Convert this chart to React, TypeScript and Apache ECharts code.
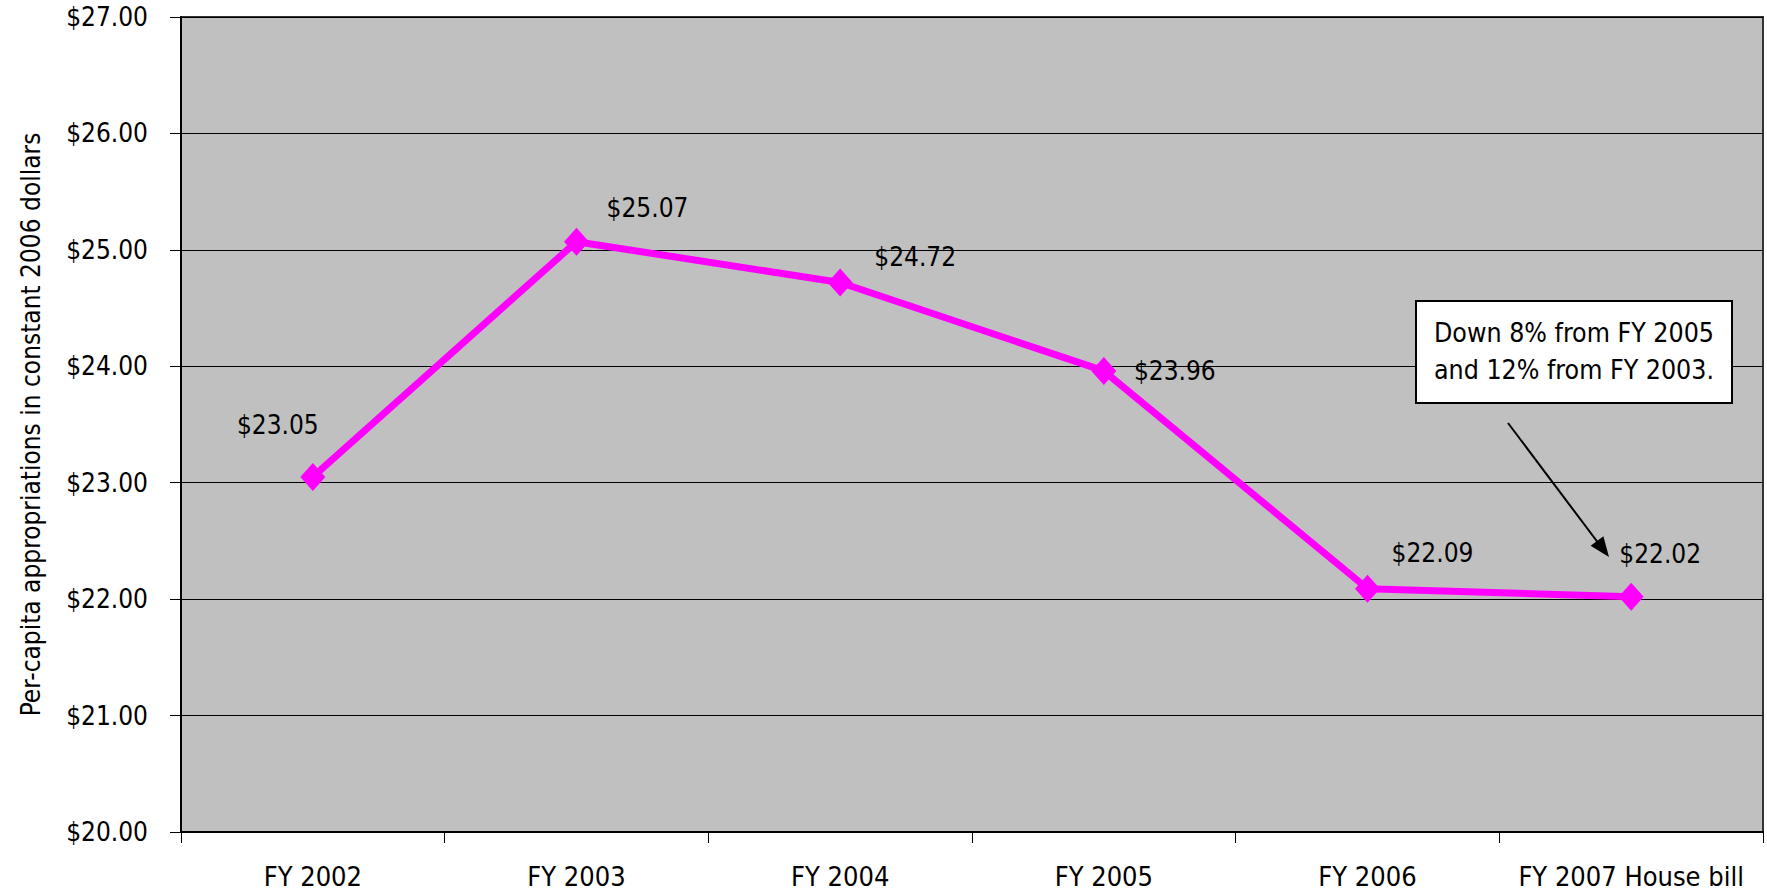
import React, { useEffect, useRef } from "react";
import * as echarts from "echarts";

const categories = ["FY 2002", "FY 2003", "FY 2004", "FY 2005", "FY 2006", "FY 2007 House bill"];
const values = [23.05, 25.07, 24.72, 23.96, 22.09, 22.02];
const yAxisName = "Per-capita appropriations in constant 2006 dollars";
const noteLines = ["Down 8% from FY 2005", "and 12% from FY 2003."];

const FONT = "'Liberation Sans Narrow', 'Arial Narrow', 'DejaVu Sans Condensed', sans-serif";

export default function App() {
  const ref = useRef<HTMLDivElement>(null);
  useEffect(() => {
    if (!ref.current) return;
    const chart = echarts.init(ref.current, null, { renderer: "svg" });
    const labelOffsets = [
      [-35, -52],
      [71, -34],
      [75, -25],
      [71, 0],
      [65, -36],
      [29, -43],
    ];
    chart.setOption({
      animation: false,
      textStyle: { fontFamily: FONT },
      grid: {
        left: 181,
        right: 4,
        top: 17,
        bottom: 62,
        show: true,
        backgroundColor: "#C0C0C0",
        borderColor: "#333333",
        borderWidth: 2,
      },
      xAxis: {
        type: "category",
        data: categories,
        boundaryGap: true,
        axisLine: { show: true, lineStyle: { color: "#000", width: 2 } },
        axisTick: { show: true, length: 11, lineStyle: { color: "#000", width: 1 } },
        axisLabel: { color: "#000", fontSize: 27, fontFamily: FONT, margin: 31, interval: 0 },
        splitLine: { show: false },
      },
      yAxis: {
        type: "value",
        min: 20,
        max: 27,
        interval: 1,
        name: yAxisName,
        nameLocation: "middle",
        nameGap: 137,
        nameTextStyle: { color: "#000", fontSize: 26, fontFamily: FONT },
        axisLine: { show: true, lineStyle: { color: "#000", width: 2 } },
        axisTick: { show: true, length: 11, lineStyle: { color: "#000", width: 1 } },
        axisLabel: {
          color: "#000",
          fontSize: 26,
          fontFamily: FONT,
          margin: 33,
          formatter: (v: number) => "$" + v.toFixed(2),
        },
        splitLine: { show: true, lineStyle: { color: "#000", width: 1 } },
      },
      series: [
        {
          type: "line",
          data: values.map((v, i) => ({
            value: v,
            label: {
              show: true,
              position: "inside",
              offset: labelOffsets[i],
              formatter: (p: any) => "$" + Number(p.value).toFixed(2),
              color: "#000",
              fontSize: 26,
              fontFamily: FONT,
            },
          })),
          symbol: "diamond",
          symbolSize: [25, 28],
          itemStyle: { color: "#FF00FF" },
          lineStyle: { color: "#FF00FF", width: 7 },
          z: 5,
        },
      ],
      graphic: [
        {
          type: "rect",
          shape: { x: 1416, y: 301, width: 316, height: 102 },
          style: { fill: "#fff", stroke: "#000", lineWidth: 2 },
          z: 10,
        },
        {
          type: "text",
          x: 1574,
          y: 332,
          style: { text: noteLines[0], fill: "#000", fontSize: 26.5, fontFamily: FONT, align: "center", verticalAlign: "middle" },
          z: 11,
        },
        {
          type: "text",
          x: 1574,
          y: 369,
          style: { text: noteLines[1], fill: "#000", fontSize: 26.5, fontFamily: FONT, align: "center", verticalAlign: "middle" },
          z: 11,
        },
        {
          type: "line",
          shape: { x1: 1508, y1: 423, x2: 1599, y2: 544 },
          style: { stroke: "#000", lineWidth: 2 },
          z: 10,
        },
        {
          type: "polygon",
          shape: { points: [[1609, 557], [1590.6, 545.8], [1603.4, 536.2]] },
          style: { fill: "#000" },
          z: 10,
        },
      ],
    });
    return () => chart.dispose();
  }, []);
  return (
    <div
      ref={ref}
      style={{ position: "absolute", left: 0, top: 0, width: 1767, height: 894, background: "#fff" }}
    />
  );
}
